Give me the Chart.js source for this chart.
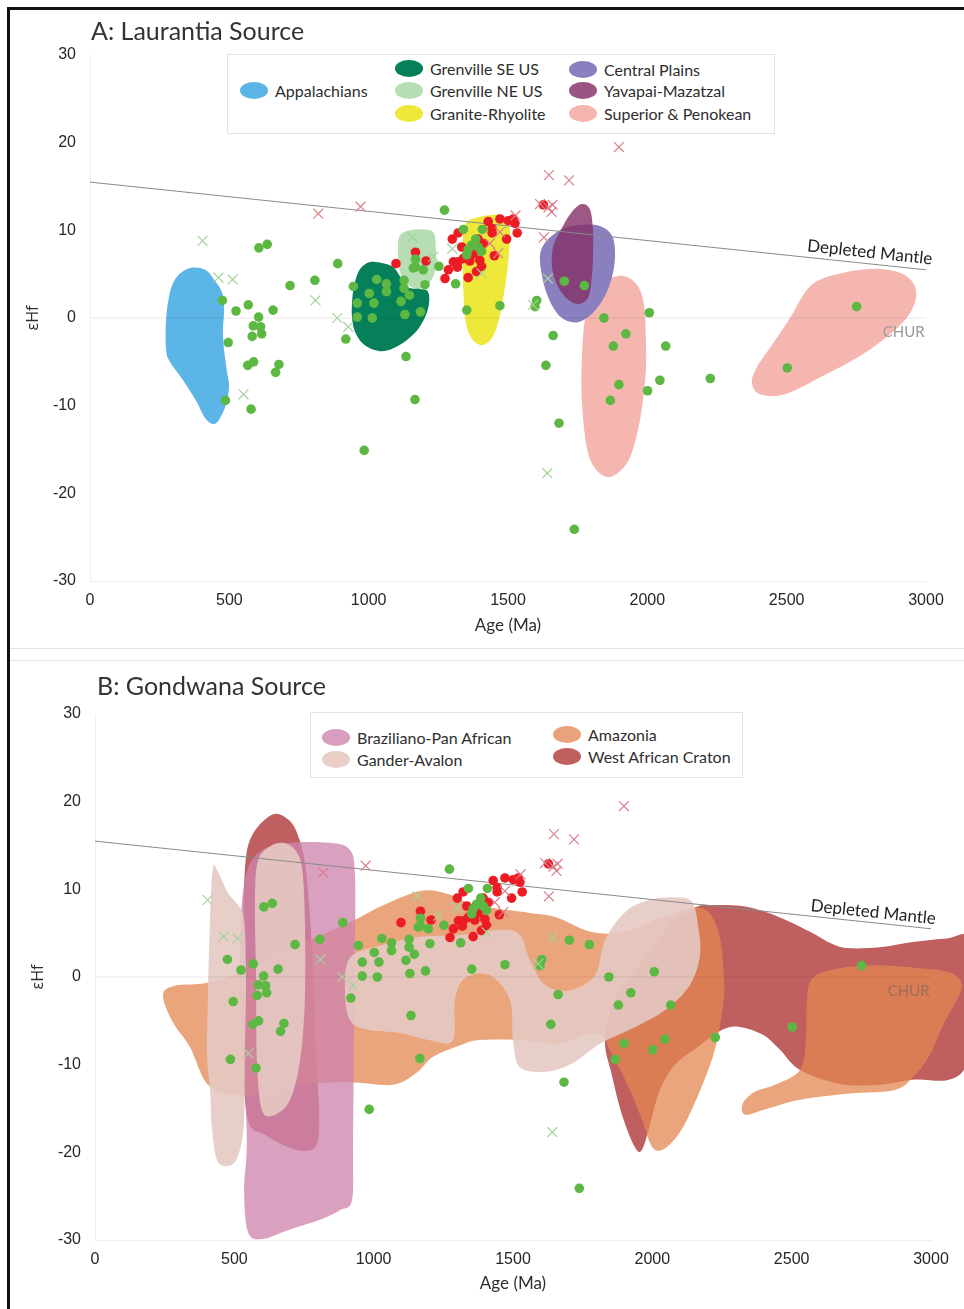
<!DOCTYPE html>
<html lang="en">
<head>
<meta charset="utf-8">
<title>εHf vs Age: Laurantia and Gondwana sources</title>
<script src="https://cdn.jsdelivr.net/npm/chart.js@4.4.1/dist/chart.umd.min.js"></script>
<style>
  html, body { margin: 0; padding: 0; background: #fff; }
  #page { position: relative; width: 964px; height: 1309px; overflow: hidden; font-family: Lato, "Open Sans", sans-serif; color: #2e2e2e; }
  .frame { position: absolute; left: 7px; top: 7px; width: 990px; height: 1330px; border-top: 3px solid #111; border-left: 3px solid #111; box-sizing: border-box; }
  .rule { position: absolute; left: 10px; width: 954px; height: 1px; background: #e4e4e4; }
  .panel-title { position: absolute; font-size: 25px; line-height: 28px; white-space: nowrap; color: #333; }
  .chart-canvas { position: absolute; left: 0; }
  .legend { position: absolute; border: 1px solid #e2e2e2; background: #fff; box-sizing: border-box; }
  .legend .item { position: absolute; display: flex; align-items: center; height: 20px; white-space: nowrap; font-size: 16px; color: #2e2e2e; }
  .legend .swatch { width: 28px; height: 17px; border-radius: 50%; margin-right: 7px; flex: none; }
</style>
</head>
<body>
<div id="page">
  <div class="frame"></div>
  <div class="rule" style="top:648px"></div>
  <div class="rule" style="top:660px"></div>
  <canvas id="chartA" class="chart-canvas" width="964" height="648" style="top:0;width:964px;height:648px"></canvas>
  <canvas id="chartB" class="chart-canvas" width="964" height="649" style="top:660px;width:964px;height:649px"></canvas>
  <div class="panel-title" style="left:91px;top:16px">A: Laurantia Source</div>
  <div class="panel-title" style="left:97px;top:671px">B: Gondwana Source</div>
  <div class="legend" id="legendA" style="left:227px;top:54px;width:548px;height:80px"></div>
  <div class="legend" id="legendB" style="left:310px;top:712px;width:433px;height:66px"></div>
</div>
<script>
// ---------- Zircon analyses: [age (Ma), εHf] ----------
const greenDots = [
  [475, 2.0], [496, -2.8], [486, -9.4], [524, 0.8], [568, 1.5], [605, 0.1], [586, -0.9], [612, -1.0],
  [582, -2.1], [616, -1.8], [566, -5.4], [587, -5.0], [578, -10.4], [606, 8.0], [636, 8.4], [657, 0.9],
  [678, -5.3], [666, -6.2], [718, 3.7], [807, 4.3], [889, 6.2], [918, -2.4], [945, 3.6], [959, 1.7],
  [959, 0.1], [1002, 2.8], [1013, 0.0], [1019, 1.7], [1029, 4.4], [1064, 3.9], [1064, 3.0], [1116, 1.9],
  [1146, 2.6], [1130, 0.4], [1186, 0.7], [1127, 4.3], [1127, 3.4], [1202, 3.8], [1168, 6.7], [1168, 5.8],
  [1196, 5.5], [1160, 5.7], [1252, 5.9], [1272, 12.3], [1312, 3.9], [1352, 0.9], [1471, 1.4], [1340, 10.1],
  [1408, 10.1], [1384, 9.0], [1369, 8.3], [1393, 8.1], [1357, 7.8], [1405, 7.6], [1352, 7.2], [1603, 2.0],
  [1597, 1.3], [1702, 4.2], [1774, 3.7], [1662, -2.0], [1636, -5.4], [1683, -12.0], [1738, -24.1], [1844, 0.0],
  [2007, 0.6], [1923, -1.8], [1878, -3.2], [2066, -3.2], [1898, -7.6], [2045, -7.1], [1867, -9.4], [2001, -8.3],
  [2226, -6.9], [2502, -5.7], [2751, 1.3], [1134, -4.4], [1166, -9.3], [984, -15.1]
];
const redDots = [
  [1098, 6.2], [1168, 7.5], [1206, 6.5], [1274, 4.5], [1286, 5.5], [1300, 9.0], [1321, 9.7], [1304, 6.4],
  [1321, 6.4], [1340, 6.8], [1334, 8.1], [1357, 4.6], [1387, 5.3], [1405, 5.9], [1399, 6.6], [1363, 6.5],
  [1429, 11.0], [1443, 9.7], [1443, 10.2], [1471, 11.3], [1501, 11.1], [1519, 11.3], [1525, 10.8], [1533, 9.7],
  [1495, 9.0], [1451, 7.1], [1393, 9.0], [1627, 12.9], [1318, 5.8], [1412, 8.5], [1375, 7.3]
];
const greenCrosses = [
  [404, 8.8], [461, 4.6], [512, 4.4], [809, 2.0], [887, 0.0], [927, -1.0], [551, -8.7], [1157, 9.2],
  [1232, 7.0], [1300, 7.9], [1405, 5.1], [1590, 1.5], [1641, -17.7], [1643, 4.5]
];
const redCrosses = [
  [819, 11.9], [971, 12.7], [1898, 19.5], [1647, 16.3], [1719, 15.7], [1615, 13.0], [1656, 12.1], [1645, 12.6],
  [1527, 11.7], [1629, 9.2], [1471, 9.8], [1465, 7.4], [1435, 8.5], [1660, 12.9]
];

// ---------- Reference curves ----------
const depletedMantle = [[0, 15.5], [3000, 5.5]];
const churLine = [[0, 0], [3000, 0]];

// ---------- Axis ticks ----------
const ageTicks = [0, 500, 1000, 1500, 2000, 2500, 3000];
const hfTicks = [-30, -20, -10, 0, 10, 20, 30];

// ---------- Laurantia source fields (outline vertices: age, εHf) ----------
const appalachians = [[359, 5.7], [413, 5.5], [445, 4.4], [474, 2.9], [481, 0.9], [477, -1.4], [481, -3.6], [492, -6.2],
  [499, -7.8], [488, -9.9], [463, -11.6], [441, -12.1], [413, -11.4], [380, -9.4], [334, -7.1], [287, -5.0],
  [273, -3.6], [273, -0.2], [287, 2.9], [312, 4.7]];
const grenvilleSE = [[1026, 6.4], [1084, 5.9], [1112, 4.8], [1141, 3.5], [1184, 3.3], [1213, 3.0], [1216, 1.5], [1198, -0.2],
  [1163, -1.8], [1105, -3.2], [1048, -3.8], [990, -3.2], [954, -1.8], [940, 0.2], [944, 3.0], [962, 5.2], [990, 6.2]];
const grenvilleNE = [[1112, 9.4], [1148, 10.0], [1202, 10.1], [1234, 9.7], [1241, 8.0], [1241, 5.7], [1220, 4.1], [1177, 3.3],
  [1130, 4.1], [1109, 5.7], [1105, 7.8]];
const graniteRhyolite = [[1363, 11.2], [1424, 11.7], [1485, 11.6], [1507, 10.0], [1503, 7.2], [1493, 4.3], [1471, 0.3],
  [1446, -2.1], [1406, -3.1], [1367, -2.2], [1346, 0.1], [1338, 4.9], [1338, 8.9], [1346, 10.5]];
const centralPlains = [[1686, 10.0], [1751, 10.6], [1830, 10.5], [1873, 9.4], [1884, 7.5], [1877, 5.2], [1851, 2.7],
  [1805, 0.6], [1747, -0.5], [1686, 0.2], [1640, 2.7], [1615, 6.4], [1629, 8.4]];
const yavapaiMazatzal = [[1765, 13.0], [1794, 12.4], [1805, 10.0], [1805, 7.2], [1801, 4.7], [1787, 2.3], [1747, 1.6],
  [1697, 2.7], [1661, 5.2], [1661, 8.0], [1694, 10.3], [1729, 12.1]];
const superiorPenokeanWest = [[1912, 4.8], [1963, 3.8], [1988, 1.5], [1995, -2.5], [1995, -5.9], [1984, -9.4], [1966, -12.8],
  [1930, -16.4], [1869, -18.1], [1816, -17.3], [1783, -14.8], [1765, -9.4], [1765, -4.8], [1776, -0.2], [1805, 2.6], [1848, 4.2]];
const superiorPenokeanEast = [[2590, 3.8], [2709, 5.2], [2835, 5.6], [2924, 4.9], [2964, 3.2], [2949, 0.9], [2888, -1.4],
  [2770, -4.2], [2619, -6.8], [2494, -8.7], [2404, -8.7], [2375, -7.3], [2397, -5.4], [2447, -3.1], [2512, 0.0]];

// ---------- Gondwana source fields ----------
const brazilianoPanAfrican = [[538, 11.1], [592, 14.3], [700, 15.3], [843, 15.3], [915, 14.5], [933, 11.6], [933, 3.1],
  [929, -8.4], [926, -19.8], [922, -25.5], [879, -26.6], [807, -27.7], [700, -28.8], [599, -29.9], [549, -29.1],
  [535, -24.3], [545, -18.6], [531, -8.3], [520, 3.1]];
const ganderAvalonWest = [[423, 12.4], [441, 12.0], [477, 9.6], [513, 8.2], [535, 6.5], [542, -0.3], [538, -8.3],
  [535, -16.3], [520, -19.7], [492, -21.4], [441, -21.1], [420, -17.4], [413, -12.9], [402, -9.1], [405, -2.6], [413, 6.5]];
const ganderAvalonTall = [[585, 13.3], [628, 14.9], [675, 15.3], [718, 14.5], [743, 12.4], [753, 6.5], [753, -2.6],
  [736, -9.5], [700, -14.0], [646, -15.7], [599, -15.2], [581, -9.5], [578, -0.3], [574, 8.8]];
const ganderAvalonCentral = [[915, 2.2], [1023, 3.6], [1166, 4.6], [1310, 4.8], [1453, 5.4], [1525, 4.8], [1561, 1.9],
  [1615, -0.9], [1704, -1.5], [1794, 0.2], [1830, 4.2], [1902, 7.4], [1991, 8.8], [2081, 9.1], [2142, 8.6], [2164, 5.9],
  [2171, 2.5], [2135, -0.9], [2045, -3.8], [1920, -6.0], [1812, -7.6], [1715, -9.8], [1622, -10.8], [1525, -10.3],
  [1500, -7.2], [1489, -2.6], [1417, 0.2], [1328, -0.1], [1292, -2.6], [1285, -7.2], [1213, -7.3], [1094, -6.4],
  [976, -6.0], [915, -4.9], [897, -1.5]];
const amazoniaMain = [[244, -2.1], [287, -1.0], [413, -0.6], [592, 1.4], [771, 4.2], [926, 6.4], [1023, 8.0], [1166, 9.8],
  [1263, 9.5], [1363, 8.2], [1561, 7.3], [1658, 6.8], [1776, 5.2], [1894, 5.1], [2027, 6.7], [2171, 7.9], [2235, 5.4],
  [2257, 0.2], [2253, -3.4], [2217, -9.1], [2124, -16.3], [2052, -19.4], [2002, -19.5], [1966, -16.6], [1920, -12.9],
  [1859, -9.1], [1801, -6.4], [1668, -7.6], [1525, -7.2], [1381, -7.2], [1310, -7.8], [1213, -9.1], [1155, -10.9],
  [1069, -12.3], [915, -12.0], [736, -12.3], [556, -13.5], [413, -12.5], [341, -8.0], [280, -5.2]];
const amazoniaEast = [[2576, -0.1], [2673, 1.0], [2817, 1.3], [2960, 1.0], [3068, 0.5], [3111, -0.9], [3086, -3.0],
  [3043, -5.5], [2996, -8.9], [2942, -11.2], [2870, -12.9], [2709, -13.3], [2530, -14.0], [2404, -15.1], [2332, -15.7],
  [2325, -14.4], [2368, -13.1], [2440, -12.3], [2530, -10.6], [2551, -7.2], [2555, -2.6]];
const westAfricanWest = [[635, 18.5], [692, 18.0], [728, 16.2], [757, 12.2], [779, 3.1], [793, -8.3], [804, -15.2],
  [800, -18.6], [771, -19.8], [700, -19.5], [610, -18.0], [549, -16.3], [531, -8.3], [531, 3.1], [538, 12.2], [563, 16.1]];
const westAfricanEast = [[2160, 8.0], [2217, 8.2], [2339, 8.0], [2458, 6.8], [2576, 5.0], [2637, 3.9], [2698, 3.3],
  [2817, 3.4], [2935, 4.0], [3057, 4.4], [3140, 4.4], [3147, -2.6], [3132, -9.5], [3068, -11.7], [2942, -11.7],
  [2817, -12.3], [2673, -12.2], [2530, -10.6], [2458, -8.3], [2397, -6.6], [2314, -5.7], [2253, -6.0], [2171, -7.8],
  [2081, -10.0], [2027, -12.9], [1991, -16.9], [1963, -19.7], [1937, -19.4], [1891, -15.7], [1855, -11.2], [1830, -7.2],
  [1866, -2.6], [1955, 1.4], [2063, 5.9]];

// ---------- Field names ----------
const laurantiaNames = ['Appalachians', 'Grenville SE US', 'Grenville NE US', 'Granite-Rhyolite',
  'Central Plains', 'Yavapai-Mazatzal', 'Superior & Penokean'];
const gondwanaNames = ['Braziliano-Pan African', 'Gander-Avalon', 'Amazonia', 'West African Craton'];

// Field outlines, listed bottom layer first
const laurantiaLayers = [
  ['Superior & Penokean', superiorPenokeanWest],
  ['Superior & Penokean', superiorPenokeanEast],
  ['Central Plains', centralPlains],
  ['Yavapai-Mazatzal', yavapaiMazatzal],
  ['Granite-Rhyolite', graniteRhyolite],
  ['Grenville NE US', grenvilleNE],
  ['Grenville SE US', grenvilleSE],
  ['Appalachians', appalachians]
];
const gondwanaLayers = [
  ['West African Craton', westAfricanEast],
  ['West African Craton', westAfricanWest],
  ['Amazonia', amazoniaMain],
  ['Amazonia', amazoniaEast],
  ['Braziliano-Pan African', brazilianoPanAfrican],
  ['Gander-Avalon', ganderAvalonWest],
  ['Gander-Avalon', ganderAvalonTall],
  ['Gander-Avalon', ganderAvalonCentral]
];

// ---------- Styling ----------
const fieldStyle = {
  'Appalachians':           { fill: '#5bb5e6',               swatch: '#5bb5e6' },
  'Grenville SE US':        { fill: '#05805a',               swatch: '#05805a' },
  'Grenville NE US':        { fill: '#b6deb2',               swatch: '#b6deb2' },
  'Granite-Rhyolite':       { fill: '#eee83b',               swatch: '#eee83b' },
  'Central Plains':         { fill: '#8a80c0',               swatch: '#8a80c0' },
  'Yavapai-Mazatzal':       { fill: 'rgba(133,48,102,0.8)',  swatch: '#9b5582' },
  'Superior & Penokean':    { fill: '#f5b6af',               swatch: '#f5b6af' },
  'Braziliano-Pan African': { fill: 'rgba(207,133,174,0.78)', swatch: '#d99dc0' },
  'Gander-Avalon':          { fill: 'rgba(228,201,195,0.9)', swatch: '#e8d0c8' },
  'Amazonia':               { fill: 'rgba(227,135,82,0.75)', swatch: '#eaa27c' },
  'West African Craton':    { fill: '#bf5f60',               swatch: '#bf5f60' }
};
// legend swatch centres inside each panel (page px)
const legendSlotsA = { box: [227, 54], slots: [[254, 90], [409, 68], [409, 90], [409, 113], [583, 69], [583, 90], [583, 113]] };
const legendSlotsB = { box: [310, 712], slots: [[336, 737], [336, 759], [567, 734], [567, 756]] };

const toXY = pairs => pairs.map(([x, y]) => ({ x, y }));

function buildDatasets(layers) {
  const ds = [
    { label: 'Red crosses', data: toXY(redCrosses), pointStyle: 'crossRot', pointRadius: 7,
      borderColor: '#d9808b', borderWidth: 1.2, order: 0 },
    { label: 'Green crosses', data: toXY(greenCrosses), pointStyle: 'crossRot', pointRadius: 7,
      borderColor: '#a5d39a', borderWidth: 1.2, order: 1 },
    { label: 'Green dots', data: toXY(greenDots), pointStyle: 'circle', pointRadius: 4.8,
      backgroundColor: '#5db843', borderWidth: 0, order: 2 },
    { label: 'Red dots', data: toXY(redDots), pointStyle: 'circle', pointRadius: 4.8,
      backgroundColor: '#ec1c24', borderWidth: 0, order: 3 },
    { label: 'Depleted Mantle', data: toXY(depletedMantle), showLine: true, pointRadius: 0,
      borderColor: '#8a8a8a', borderWidth: 1, order: 4 },
    { label: 'CHUR', data: toXY(churLine), showLine: true, pointRadius: 0,
      borderColor: 'rgba(0,0,0,0.09)', borderWidth: 1, order: 5 }
  ];
  layers.forEach(([name, outline], i) => {
    ds.push({ label: name, data: toXY(outline), field: true, backgroundColor: fieldStyle[name].fill,
      pointRadius: 0, showLine: false, order: 100 - i });
  });
  return ds;
}

// Fills each field as a smooth closed curve through its vertices (pixel positions from the scales)
const fieldFill = {
  id: 'fieldFill',
  beforeDatasetDraw(chart, args) {
    const ds = chart.data.datasets[args.index];
    if (!ds.field) return;
    const pts = args.meta.data.map(p => ({ x: p.x, y: p.y }));
    const n = pts.length;
    const ctx = chart.ctx;
    ctx.save();
    ctx.beginPath();
    ctx.moveTo(pts[0].x, pts[0].y);
    for (let i = 0; i < n; i++) {
      const p0 = pts[(i - 1 + n) % n], p1 = pts[i], p2 = pts[(i + 1) % n], p3 = pts[(i + 2) % n];
      ctx.bezierCurveTo(
        p1.x + (p2.x - p0.x) / 6, p1.y + (p2.y - p0.y) / 6,
        p2.x - (p3.x - p1.x) / 6, p2.y - (p3.y - p1.y) / 6,
        p2.x, p2.y);
    }
    ctx.closePath();
    ctx.fillStyle = ds.backgroundColor;
    ctx.fill();
    ctx.restore();
  }
};

// Labels for the Depleted Mantle and CHUR reference lines
const curveLabels = {
  id: 'curveLabels',
  afterDatasetsDraw(chart, args, opts) {
    const xs = chart.scales.x, ys = chart.scales.y, ctx = chart.ctx;
    const [a, b] = depletedMantle;
    const x0 = xs.getPixelForValue(a[0]), y0 = ys.getPixelForValue(a[1]);
    const x1 = xs.getPixelForValue(b[0]), y1 = ys.getPixelForValue(b[1]);
    const ang = Math.atan2(y1 - y0, x1 - x0);
    const lx = xs.getPixelForValue(opts.dmAge);
    const ly = y0 + (lx - x0) * (y1 - y0) / (x1 - x0);
    ctx.save();
    ctx.translate(lx, ly);
    ctx.rotate(ang);
    ctx.font = '17px Lato, "Open Sans", sans-serif';
    ctx.fillStyle = '#222';
    ctx.textAlign = 'left';
    ctx.textBaseline = 'alphabetic';
    ctx.fillText('Depleted Mantle', 0, -opts.dmGap);
    ctx.restore();

    ctx.save();
    ctx.font = '15px Lato, "Open Sans", sans-serif';
    ctx.fillStyle = opts.churColor;
    ctx.textAlign = 'right';
    ctx.textBaseline = 'middle';
    ctx.fillText('CHUR', xs.getPixelForValue(2995), ys.getPixelForValue(0) + 14);
    ctx.restore();
  }
};

function makeChart(id, layers, geom) {
  const tickFont = { family: '"Liberation Sans", Arial, sans-serif', size: 16 };
  return new Chart(document.getElementById(id), {
    type: 'scatter',
    data: { datasets: buildDatasets(layers) },
    options: {
      responsive: false,
      animation: false,
      events: [],
      layout: { padding: geom.padding },
      plugins: {
        legend: { display: false },
        tooltip: { enabled: false },
        curveLabels: geom.labels
      },
      scales: {
        x: {
          type: 'linear', min: 0, max: 3000,
          afterBuildTicks: s => { s.ticks = ageTicks.map(v => ({ value: v })); },
          afterFit: s => { s.height = geom.xHeight; },
          ticks: { color: '#262626', font: tickFont, padding: 10, maxRotation: 0, callback: v => String(v) },
          grid: { display: false, drawTicks: false },
          border: { display: true, color: '#efefef' },
          title: { display: true, text: 'Age (Ma)', color: '#2e2e2e',
            font: { family: 'Lato, "Open Sans", sans-serif', size: 17 }, padding: { top: 0, bottom: geom.xTitlePad } }
        },
        y: {
          type: 'linear', min: -30, max: 30,
          afterBuildTicks: s => { s.ticks = hfTicks.map(v => ({ value: v })); },
          afterFit: s => { s.width = 80; },
          ticks: { color: '#262626', font: tickFont, padding: 14, callback: v => String(v) },
          grid: { display: false, drawTicks: false },
          border: { display: true, color: '#efefef' },
          title: { display: true, text: 'εHf', color: '#2e2e2e',
            font: { family: '"Open Sans", Lato, sans-serif', size: 16 }, padding: { top: 14, bottom: 0 } }
        }
      }
    },
    plugins: [fieldFill, curveLabels]
  });
}

makeChart('chartA', laurantiaLayers, {
  padding: { left: 10, top: 55, right: 38, bottom: 0 }, xHeight: 67, xTitlePad: 12,
  labels: { dmAge: 2570, dmGap: 6, churColor: '#9a9a9a' }
});
makeChart('chartB', gondwanaLayers, {
  padding: { left: 15, top: 54, right: 33, bottom: 0 }, xHeight: 69, xTitlePad: 15,
  labels: { dmAge: 2565, dmGap: 5, churColor: 'rgba(95,95,95,0.5)' }
});

// HTML legends built from the field names
function buildLegend(el, names, layout) {
  const [bx, by] = layout.box;
  names.forEach((name, i) => {
    const [cx, cy] = layout.slots[i];
    const item = document.createElement('div');
    item.className = 'item';
    item.style.left = (cx - 14 - bx - 1) + 'px';
    item.style.top = (cy - 10 - by - 1) + 'px';
    const sw = document.createElement('span');
    sw.className = 'swatch';
    sw.style.background = fieldStyle[name].swatch;
    const tx = document.createElement('span');
    tx.textContent = name;
    item.appendChild(sw);
    item.appendChild(tx);
    el.appendChild(item);
  });
}
buildLegend(document.getElementById('legendA'), laurantiaNames, legendSlotsA);
buildLegend(document.getElementById('legendB'), gondwanaNames, legendSlotsB);
</script>
</body>
</html>
